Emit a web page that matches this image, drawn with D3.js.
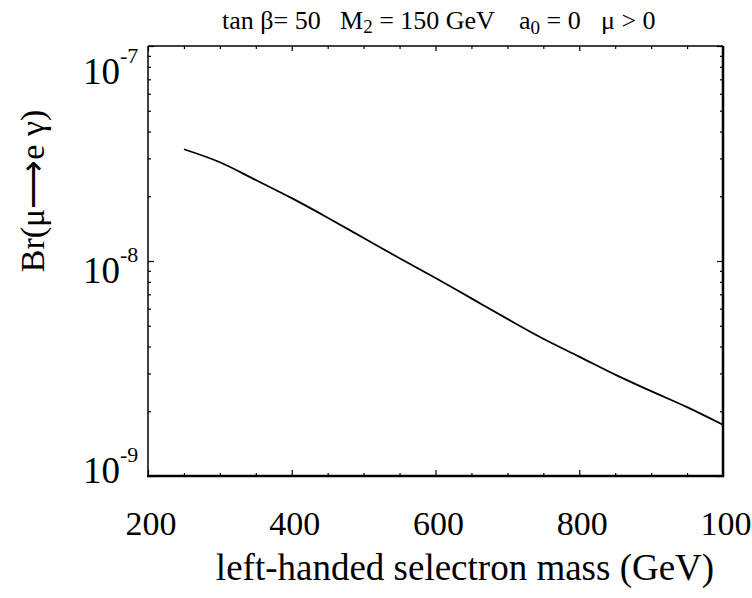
<!DOCTYPE html>
<html lang="en">
<head>
  <meta charset="UTF-8">
  <title>Br(mu -> e gamma) vs selectron mass</title>
  <script src="https://d3js.org/d3.v7.min.js"></script>
  <style>
    body { margin: 0; background: #fff; }
    svg text { font-family: "Liberation Serif", "Times New Roman", serif; fill: #000; }
    .frame { fill: none; stroke: #000; }
    .axis path { display: none; }
    .axis line { stroke: #000; stroke-width: 1.2; }
  </style>
</head>
<body>
<div id="chart"></div>
<script>
// curve (GeV, branching ratio)
var massGeV  = [250, 300, 350, 400, 450, 500, 550, 600, 650, 700, 750, 800, 850, 900, 950, 1000];
var brValues = [3.31e-8, 2.88e-8, 2.38e-8, 1.96e-8, 1.59e-8, 1.28e-8, 1.03e-8, 8.34e-9,
                6.70e-9, 5.38e-9, 4.35e-9, 3.59e-9, 2.96e-9, 2.48e-9, 2.09e-9, 1.73e-9];

// axis ticks
var xTickValues = [200, 400, 600, 800, 1000];
var xTickLabels = ["200", "400", "600", "800", "100"];
var yTickValues = [1e-9, 1e-8, 1e-7];
var yTickExponents = ["-9", "-8", "-7"];

var width = 752, height = 598;
// plot box (don't call it "top", that's window.top)
var boxL = 148, boxR = 723, boxT = 46, boxB = 476;

var svg = d3.select("#chart").append("svg")
  .attr("width", width)
  .attr("height", height);

var x = d3.scaleLinear().domain([200, 1000]).range([boxL, boxR]);
var y = d3.scaleLog().domain([1e-9, 1e-7]).range([boxB, boxT]);

// minor ticks
var xMinor = d3.range(250, 1000, 50).filter(function(d){ return d % 200 !== 0; });
var yMinor = [];
[1e-9, 1e-8].forEach(function(dec){
  for (var k = 2; k <= 9; k++) yMinor.push(dec * k);
});

function drawTicks(axisFn, scale, values, size, tx, ty){
  svg.append("g")
    .attr("class", "axis")
    .attr("transform", "translate(" + tx + "," + ty + ")")
    .call(axisFn(scale).tickValues(values).tickSize(size).tickFormat(""));
}

// bottom / top
drawTicks(d3.axisBottom, x, xTickValues, -6, 0, boxB);
drawTicks(d3.axisBottom, x, xMinor, -3, 0, boxB);
drawTicks(d3.axisTop, x, xTickValues, -5, 0, boxT);
drawTicks(d3.axisTop, x, xMinor, -3, 0, boxT);
// left / right
drawTicks(d3.axisLeft, y, yTickValues, -6, boxL, 0);
drawTicks(d3.axisLeft, y, yMinor, -3, boxL, 0);
drawTicks(d3.axisRight, y, yTickValues, -6, boxR, 0);
drawTicks(d3.axisRight, y, yMinor, -3, boxR, 0);

// frame
svg.append("line").attr("class", "frame").attr("x1", boxL).attr("x2", boxR)
  .attr("y1", boxT).attr("y2", boxT).attr("stroke-width", 1.5);
svg.append("line").attr("class", "frame").attr("x1", boxL).attr("x2", boxL)
  .attr("y1", boxT).attr("y2", boxB).attr("stroke-width", 1.5);
svg.append("line").attr("class", "frame").attr("x1", boxL - 1).attr("x2", boxR + 1)
  .attr("y1", boxB).attr("y2", boxB).attr("stroke-width", 2.5);
svg.append("line").attr("class", "frame").attr("x1", boxR).attr("x2", boxR)
  .attr("y1", boxT).attr("y2", boxB + 1).attr("stroke-width", 2.5);

// the curve
var line = d3.line()
  .x(function(d, i){ return x(massGeV[i]); })
  .y(function(d){ return y(d); })
  .curve(d3.curveMonotoneX);

svg.append("path")
  .datum(brValues)
  .attr("d", line)
  .attr("fill", "none")
  .attr("stroke", "#000")
  .attr("stroke-width", 1.8);

// x tick labels
svg.selectAll(".xlab")
  .data(xTickValues)
  .enter().append("text")
    .attr("class", "xlab")
    .attr("x", function(d){ return x(d) + 3; })
    .attr("y", 535)
    .attr("text-anchor", "middle")
    .attr("font-size", "34px")
    .text(function(d, i){ return xTickLabels[i]; });

// y tick labels: "10" with a raised exponent
var ylab = svg.selectAll(".ylab")
  .data(yTickValues)
  .enter().append("text")
    .attr("class", "ylab")
    .attr("x", 83)
    .attr("y", function(d){ return 84 + (y(d) - boxT) * 0.927; })
    .attr("font-size", "37px");
ylab.append("tspan").text("10");
ylab.append("tspan")
  .attr("dx", 0)
  .attr("dy", -21)
  .attr("font-size", "22px")
  .text(function(d, i){ return yTickExponents[i]; });

// axis titles
svg.append("text")
  .attr("transform", "translate(44,191) rotate(-90)")
  .attr("text-anchor", "middle")
  .attr("font-size", "34px")
  .text("Br(\u03bc\u27f6e \u03b3)");

svg.append("text")
  .attr("x", 465)
  .attr("y", 580)
  .attr("text-anchor", "middle")
  .attr("font-size", "37px")
  .text("left-handed selectron mass (GeV)");

// parameters along the top
var title = svg.append("text").attr("y", 29).attr("font-size", "26px");
title.append("tspan").attr("x", 222).text("tan \u03b2= 50");
title.append("tspan").attr("x", 340).text("M");
title.append("tspan").attr("font-size", "19px").attr("dy", 4).text("2");
title.append("tspan").attr("dy", -4).text(" = 150 GeV");
title.append("tspan").attr("x", 519).text("a");
title.append("tspan").attr("font-size", "19px").attr("dy", 5).text("0");
title.append("tspan").attr("dy", -5).text(" = 0");
title.append("tspan").attr("x", 601).text("\u03bc > 0");
</script>
</body>
</html>
